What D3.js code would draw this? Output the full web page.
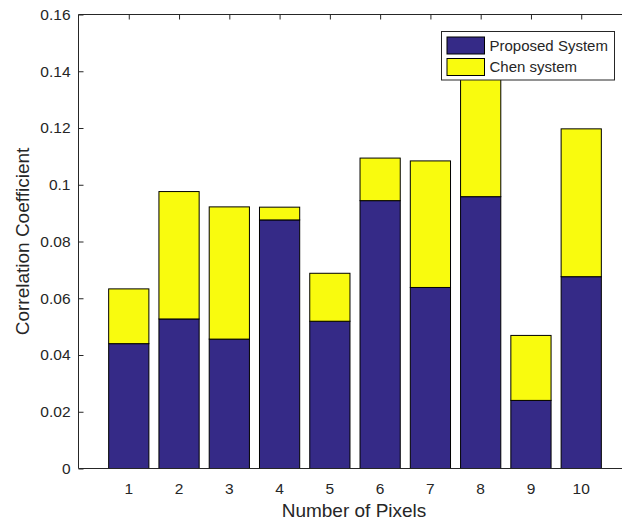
<!DOCTYPE html>
<html>
<head>
<meta charset="utf-8">
<script src="https://cdn.jsdelivr.net/npm/d3@7"></script>
<style>
  body { margin: 0; background: #fff; }
  text { font-family: "Liberation Sans", Arial, sans-serif; fill: #262626; }
</style>
</head>
<body>
<div id="chart"></div>
<script>
// setting up constants
const FRAME_WIDTH = 622;
const FRAME_HEIGHT = 524;
const MARGINS = {left: 78.5, top: 14.5};
const AXIS_BOTTOM = 468.5;
const AXIS_RIGHT = 631.5; // axes box runs past the crop on the right

// data
const pixels = [1, 2, 3, 4, 5, 6, 7, 8, 9, 10];
const proposed = [0.0440, 0.0527, 0.0456, 0.0876, 0.0519, 0.0944, 0.0638, 0.0958, 0.0240, 0.0676];
const chen = [0.0193, 0.0449, 0.0466, 0.0045, 0.0169, 0.0150, 0.0446, 0.0462, 0.0229, 0.0521];
const seriesNames = ["Proposed System", "Chen system"];
const seriesColors = ["#352a87", "#f9fb0e"];
const yTicks = [0, 0.02, 0.04, 0.06, 0.08, 0.1, 0.12, 0.14, 0.16];

const rows = pixels.map((p, i) => ({pixel: p, proposed: proposed[i], chen: chen[i]}));
const stacked = d3.stack().keys(["proposed", "chen"])(rows);

const svg = d3.select("#chart")
  .append("svg")
    .attr("width", FRAME_WIDTH)
    .attr("height", FRAME_HEIGHT);

const xScale = d3.scaleLinear().domain([0, 11]).range([MARGINS.left, AXIS_RIGHT]);
const yScale = d3.scaleLinear().domain([0, 0.16]).range([AXIS_BOTTOM, MARGINS.top]);
const barW = (xScale(1) - xScale(0)) * 0.8;

// bars
svg.append("g")
  .selectAll("g")
  .data(stacked)
  .enter()
  .append("g")
    .attr("fill", (d, i) => seriesColors[i])
  .selectAll("rect")
  .data(d => d)
  .enter()
  .append("rect")
    .attr("x", d => xScale(d.data.pixel) - barW / 2)
    .attr("y", d => yScale(d[1]))
    .attr("width", barW)
    .attr("height", d => yScale(d[0]) - yScale(d[1]))
    .attr("stroke", "#000")
    .attr("stroke-width", 1);

// axes box
const axisColor = "#262626";
svg.append("path")
  .attr("d", `M${AXIS_RIGHT},${MARGINS.top}H${MARGINS.left}V${AXIS_BOTTOM}H${AXIS_RIGHT}`)
  .attr("fill", "none")
  .attr("stroke", axisColor)
  .attr("stroke-width", 1);

// y axis (ticks point inward)
const yAxis = svg.append("g")
  .attr("transform", `translate(${MARGINS.left},0)`)
  .call(d3.axisRight(yScale).tickValues(yTicks).tickSize(5).tickFormat(""));
yAxis.select(".domain").remove();
yAxis.selectAll("line").attr("stroke", axisColor);

svg.append("g")
  .selectAll("text")
  .data(yTicks)
  .enter()
  .append("text")
    .attr("x", MARGINS.left - 8)
    .attr("y", d => yScale(d))
    .attr("dy", "0.35em")
    .attr("text-anchor", "end")
    .attr("font-size", 15.5)
    .text(d => d);

// x axis ticks on top (bottom ones sit under the bars)
const xTop = svg.append("g")
  .attr("transform", `translate(0,${MARGINS.top})`)
  .call(d3.axisBottom(xScale).tickValues(pixels).tickSize(5).tickFormat(""));
xTop.select(".domain").remove();
xTop.selectAll("line").attr("stroke", axisColor);

svg.append("g")
  .selectAll("text")
  .data(pixels)
  .enter()
  .append("text")
    .attr("x", d => xScale(d))
    .attr("y", 494)
    .attr("text-anchor", "middle")
    .attr("font-size", 15.5)
    .text(d => d);

// axis titles
svg.append("text")
  .attr("x", 354)
  .attr("y", 517)
  .attr("text-anchor", "middle")
  .attr("font-size", 19)
  .text("Number of Pixels");

svg.append("text")
  .attr("transform", "translate(29," + ((MARGINS.top + AXIS_BOTTOM) / 2) + ") rotate(-90)")
  .attr("text-anchor", "middle")
  .attr("font-size", 19)
  .text("Correlation Coefficient");

// legend
const legend = svg.append("g").attr("transform", "translate(441.5,31.5)");
legend.append("rect")
  .attr("width", 173)
  .attr("height", 48.5)
  .attr("fill", "#fff")
  .attr("stroke", axisColor)
  .attr("stroke-width", 1);

const items = legend.selectAll("g.item")
  .data(seriesNames)
  .enter()
  .append("g")
    .attr("transform", (d, i) => `translate(5.5,${5.5 + i * 21.5})`);
items.append("rect")
  .attr("width", 37.5)
  .attr("height", 17)
  .attr("fill", (d, i) => seriesColors[i])
  .attr("stroke", "#000")
  .attr("stroke-width", 1);
items.append("text")
  .attr("x", 42.5)
  .attr("y", 8.5)
  .attr("dy", "0.35em")
  .attr("font-size", 15)
  .text(d => d);
</script>
</body>
</html>
